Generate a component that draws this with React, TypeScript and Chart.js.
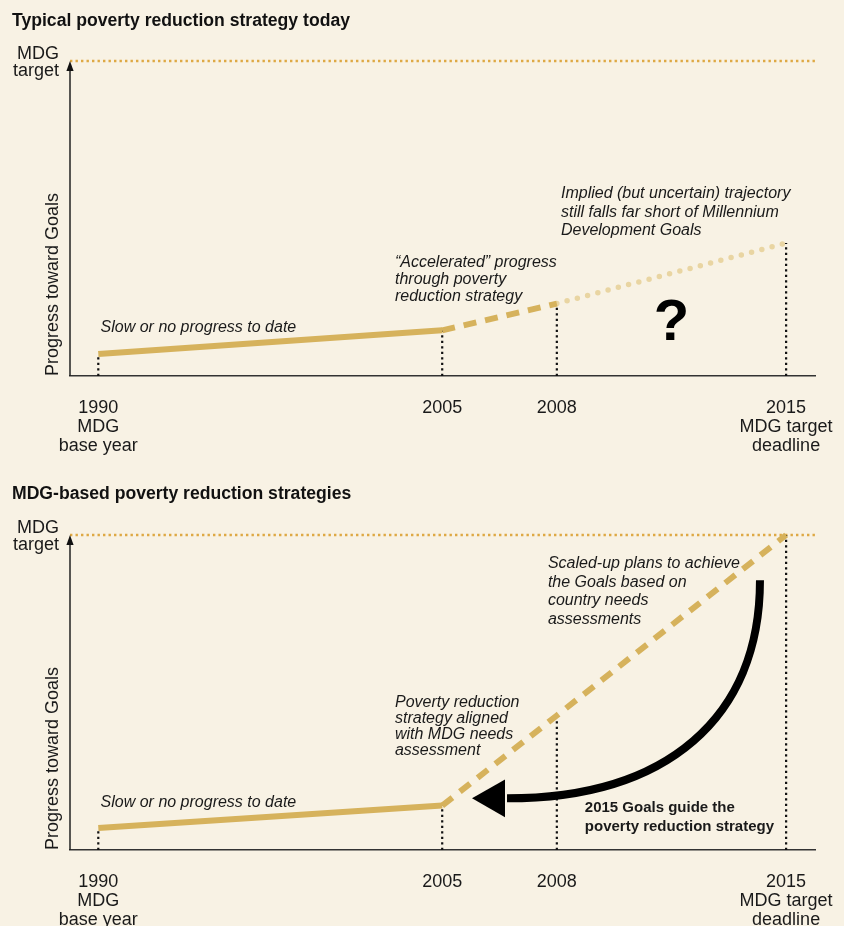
import React, { useEffect, useRef } from 'react';
import { Chart, registerables } from 'chart.js';

Chart.register(...registerables);

// ---------- data ----------
const YEARS = ['1990', '2005', '2008', '2015'];
// schematic (not to scale) axis positions of the years, as drawn in the original
const YEAR_POS = [0, 15, 20, 30];
const TICK_LABELS: string[][] = [['1990', 'MDG', 'base year'], ['2005'], ['2008'], ['2015', 'MDG target', 'deadline']];
const TARGET = 100;
const TODAY_VALUES = [7, 14.5, 23, 42.2];
const MDG_VALUES = [7, 14.1, 42.7, 100];

const TITLE_TODAY = 'Typical poverty reduction strategy today';
const TITLE_MDG = 'MDG-based poverty reduction strategies';
const Y_TITLE = 'Progress toward Goals';
const TARGET_LABEL = ['MDG', 'target'];

// ---------- styles ----------
const BG = '#f8f2e4';
const GOLD = '#d6b25c';
const GOLD_LIGHT = '#e9d5a2';
const TARGET_DOTS = '#dea944';
const INK = '#1a1a1a';
const FONT = "'Liberation Sans', Arial, sans-serif";
const X_MIN = -1.234;
const X_MAX = 31.26;

type Note = { lines: string[]; x: number; y: number; lh: number; font: string; align?: CanvasTextAlign };

const NOTES_TODAY: Note[] = [
  { lines: ['Slow or no progress to date'], x: 0.1, y: 13.9, lh: 18.5, font: `italic 16px ${FONT}` },
  { lines: ['\u201CAccelerated\u201D progress', 'through poverty', 'reduction strategy'], x: 12.94, y: 34.6, lh: 17.2, font: `italic 16px ${FONT}` },
  { lines: ['Implied (but uncertain) trajectory', 'still falls far short of Millennium', 'Development Goals'], x: 20.18, y: 56.4, lh: 18.5, font: `italic 16px ${FONT}` },
  { lines: ['?'], x: 25, y: 11.3, lh: 0, font: `bold 58px ${FONT}`, align: 'center' },
];

const NOTES_MDG: Note[] = [
  { lines: ['Slow or no progress to date'], x: 0.1, y: 13.6, lh: 18.5, font: `italic 16px ${FONT}` },
  { lines: ['Scaled-up plans to achieve', 'the Goals based on', 'country needs', 'assessments'], x: 19.61, y: 89.5, lh: 18.5, font: `italic 16px ${FONT}` },
  { lines: ['Poverty reduction', 'strategy aligned', 'with MDG needs', 'assessment'], x: 12.94, y: 45.3, lh: 16, font: `italic 16px ${FONT}` },
  { lines: ['2015 Goals guide the', 'poverty reduction strategy'], x: 21.22, y: 12.0, lh: 19, font: `bold 15px ${FONT}` },
];

// curved arrow in data units: start, control 1, control 2, end, tip
const ARROW = { sx: 28.86, sy: 85.6, c1x: 28.86, c1y: 42.0, c2x: 24.8, c2y: 16.4, ex: 17.74, ey: 16.4, tipX: 16.3, half: 6 };

const decor = {
  id: 'decor',
  beforeDatasetsDraw(chart: any, _a: any, o: any) {
    const ctx: CanvasRenderingContext2D = chart.ctx;
    const { left, right, bottom } = chart.chartArea;
    const yS = chart.scales.y;
    const ty = yS.getPixelForValue(TARGET);
    ctx.save();
    // title
    ctx.fillStyle = '#111';
    ctx.font = `bold 17.6px ${FONT}`;
    ctx.textAlign = 'left';
    ctx.textBaseline = 'alphabetic';
    ctx.fillText(o.title, 12, o.titleY);
    // target dotted line
    ctx.strokeStyle = TARGET_DOTS;
    ctx.lineWidth = 2.4;
    ctx.setLineDash([2.4, 3.1]);
    ctx.beginPath();
    ctx.moveTo(left, ty);
    ctx.lineTo(right, ty);
    ctx.stroke();
    ctx.setLineDash([]);
    // y axis with arrow
    const ax = left;
    ctx.strokeStyle = '#222';
    ctx.lineWidth = 1.5;
    ctx.beginPath();
    ctx.moveTo(ax, bottom);
    ctx.lineTo(ax, ty + 6);
    ctx.stroke();
    ctx.fillStyle = '#111';
    ctx.beginPath();
    ctx.moveTo(ax, ty);
    ctx.lineTo(ax - 3.6, ty + 10);
    ctx.lineTo(ax + 3.6, ty + 10);
    ctx.closePath();
    ctx.fill();
    // MDG target label
    ctx.fillStyle = INK;
    ctx.font = `18px ${FONT}`;
    ctx.textAlign = 'right';
    ctx.fillText(TARGET_LABEL[0], 59, ty - 2.5);
    ctx.fillText(TARGET_LABEL[1], 59, ty + 14.5);
    // y title
    ctx.save();
    ctx.translate(53, bottom);
    ctx.rotate(-Math.PI / 2);
    ctx.textAlign = 'left';
    ctx.textBaseline = 'middle';
    ctx.fillText(Y_TITLE, 0, 0);
    ctx.restore();
    ctx.restore();
  },
  afterDatasetsDraw(chart: any, _a: any, o: any) {
    const ctx: CanvasRenderingContext2D = chart.ctx;
    const xS = chart.scales.x;
    const yS = chart.scales.y;
    ctx.save();
    for (const n of o.notes as Note[]) {
      ctx.font = n.font;
      ctx.fillStyle = n.font.startsWith('bold 58') ? '#000' : INK;
      ctx.textAlign = n.align || 'left';
      ctx.textBaseline = 'alphabetic';
      const x = xS.getPixelForValue(n.x);
      const y = yS.getPixelForValue(n.y);
      n.lines.forEach((l, i) => ctx.fillText(l, x, y + i * n.lh));
    }
    if (o.arrow) {
      const a = o.arrow;
      const P = (x: number, y: number) => [xS.getPixelForValue(x), yS.getPixelForValue(y)];
      const [sx, sy] = P(a.sx, a.sy);
      const [c1x, c1y] = P(a.c1x, a.c1y);
      const [c2x, c2y] = P(a.c2x, a.c2y);
      const [ex, ey] = P(a.ex, a.ey);
      const [tx] = P(a.tipX, a.ey);
      const hh = yS.getPixelForValue(0) - yS.getPixelForValue(a.half);
      ctx.strokeStyle = '#000';
      ctx.lineWidth = 8;
      ctx.lineCap = 'butt';
      ctx.beginPath();
      ctx.moveTo(sx, sy);
      ctx.bezierCurveTo(c1x, c1y, c2x, c2y, ex + 2, ey);
      ctx.stroke();
      ctx.fillStyle = '#000';
      ctx.beginPath();
      ctx.moveTo(tx, ey);
      ctx.lineTo(ex, ey - hh);
      ctx.lineTo(ex, ey + hh);
      ctx.closePath();
      ctx.fill();
    }
    ctx.restore();
  },
};

const pts = (vals: number[], idx: number[]) => idx.map((i) => ({ x: YEAR_POS[i], y: vals[i] }));
const drop = (vals: number[], i: number) => ({
  label: `${YEARS[i]} drop`,
  data: [{ x: YEAR_POS[i], y: 0 }, { x: YEAR_POS[i], y: vals[i] }],
  borderColor: '#111',
  borderWidth: 2.2,
  borderDash: [2.2, 3.3],
  pointRadius: 0,
  clip: 10,
});
const seg = (label: string, vals: number[], idx: number[], color: string, width: number, dash: number[], cap: CanvasLineCap) => ({
  label,
  data: pts(vals, idx),
  borderColor: color,
  borderWidth: width,
  borderDash: dash,
  borderCapStyle: cap,
  pointRadius: 0,
  tension: 0,
  clip: 10,
});

function makeConfig(kind: 'today' | 'mdg'): any {
  const datasets =
    kind === 'today'
      ? [
          seg('Slow progress', TODAY_VALUES, [0, 1], GOLD, 6, [], 'butt'),
          seg('Accelerated', TODAY_VALUES, [1, 2], GOLD, 6, [13, 9], 'butt'),
          seg('Implied', TODAY_VALUES, [2, 3], GOLD_LIGHT, 5.5, [0, 10.6], 'round'),
          ...[0, 1, 2, 3].map((i) => drop(TODAY_VALUES, i)),
        ]
      : [
          seg('Slow progress', MDG_VALUES, [0, 1], GOLD, 6, [], 'butt'),
          seg('Scaled-up', MDG_VALUES, [1, 2, 3], GOLD, 6, [13, 9.5], 'butt'),
          ...[0, 1, 2, 3].map((i) => drop(MDG_VALUES, i)),
        ];
  return {
    type: 'line',
    data: { datasets },
    plugins: [decor],
    options: {
      responsive: false,
      animation: false,
      events: [],
      layout: { padding: { left: 70, right: 29, top: 61, bottom: 0 } },
      plugins: {
        legend: { display: false },
        tooltip: { enabled: false },
        decor: {
          title: kind === 'today' ? TITLE_TODAY : TITLE_MDG,
          titleY: kind === 'today' ? 26 : 24.5,
          notes: kind === 'today' ? NOTES_TODAY : NOTES_MDG,
          arrow: kind === 'mdg' ? ARROW : null,
        },
      },
      scales: {
        x: {
          type: 'linear',
          min: X_MIN,
          max: X_MAX,
          afterBuildTicks: (s: any) => {
            s.ticks = YEAR_POS.map((v) => ({ value: v }));
          },
          afterFit: (s: any) => {
            s.height = 98;
            s.paddingLeft = 0;
            s.paddingRight = 0;
          },
          grid: { display: false, drawTicks: false },
          border: { display: true, color: '#333', width: 1.5 },
          ticks: {
            autoSkip: false,
            maxRotation: 0,
            padding: 23,
            color: INK,
            font: { family: FONT, size: 18, lineHeight: 1.04 },
            callback: (v: number) => TICK_LABELS[YEAR_POS.indexOf(v)] ?? '',
          },
        },
        y: { type: 'linear', min: 0, max: TARGET, display: false },
      },
    },
  };
}

function Panel({ kind }: { kind: 'today' | 'mdg' }) {
  const ref = useRef<HTMLCanvasElement>(null);
  useEffect(() => {
    const chart = new Chart(ref.current as HTMLCanvasElement, makeConfig(kind));
    return () => chart.destroy();
  }, [kind]);
  return <canvas ref={ref} width={844} height={474} style={{ display: 'block', width: 844, height: 474 }} />;
}

export default function App() {
  return (
    <div style={{ position: 'fixed', left: 0, top: 0, width: 844, height: 926, overflow: 'hidden', background: BG }}>
      <div style={{ position: 'absolute', left: 0, top: 0 }}>
        <Panel kind="today" />
      </div>
      <div style={{ position: 'absolute', left: 0, top: 474 }}>
        <Panel kind="mdg" />
      </div>
    </div>
  );
}
